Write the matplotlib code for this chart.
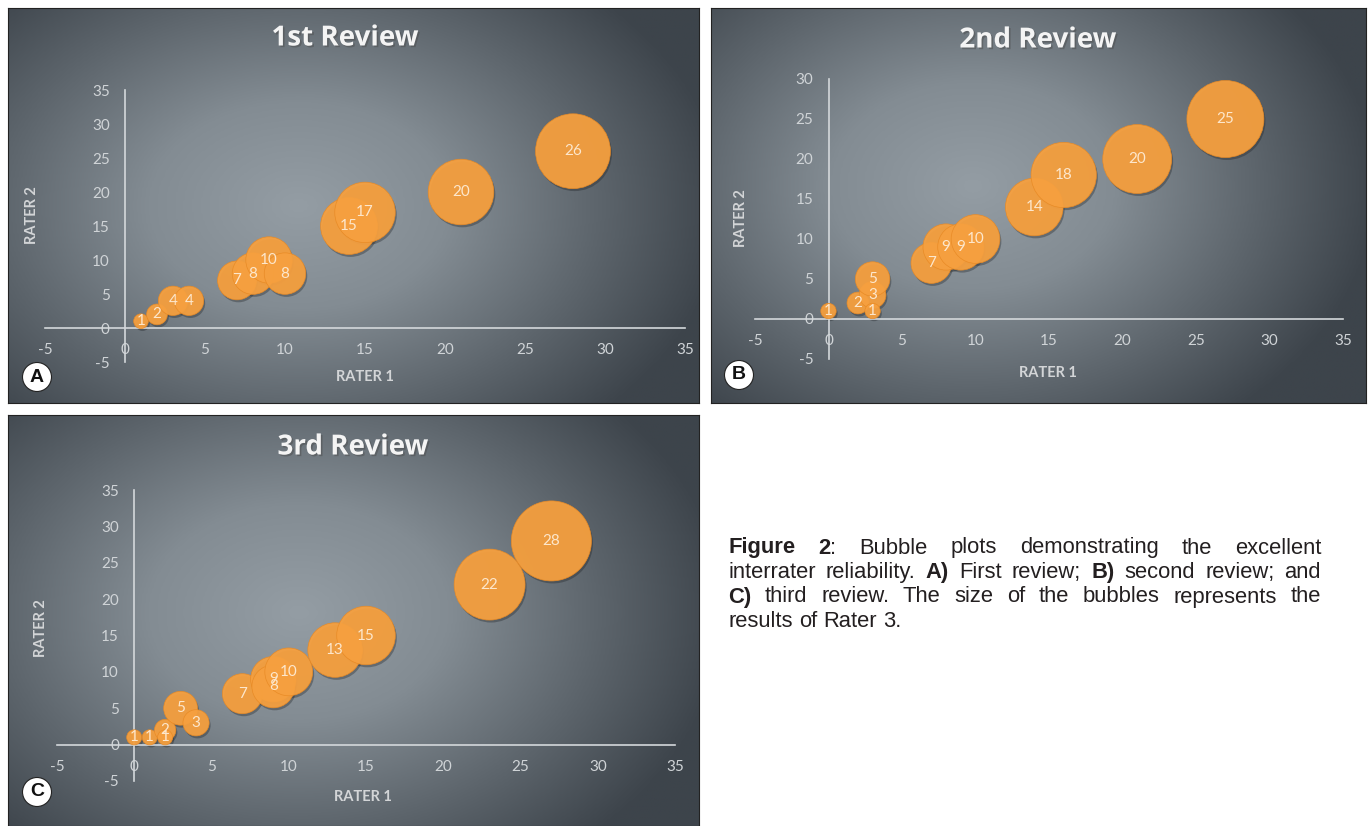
import numpy as np
import matplotlib
matplotlib.use('Agg')
import matplotlib.pyplot as plt
import matplotlib.patheffects as pe
import matplotlib.transforms as mtransforms
from matplotlib.colors import LinearSegmentedColormap
from matplotlib.patches import Ellipse

plt.rcParams['axes.unicode_minus'] = False

# data: rater 1 (x), rater 2 (y), rater 3 (bubble size and label)
r1_first = [1, 2, 3, 4, 7, 8, 9, 10, 14, 15, 21, 28]
r2_first = [1, 2, 4, 4, 7, 8, 10, 8, 15, 17, 20, 26]
r3_first = [1, 2, 4, 4, 7, 8, 10, 8, 15, 17, 20, 26]

r1_second = [0, 2, 3, 3, 3, 7, 8, 9, 10, 14, 16, 21, 27]
r2_second = [1, 2, 3, 1, 5, 7, 9, 9, 10, 14, 18, 20, 25]
r3_second = [1, 2, 3, 1, 5, 7, 9, 9, 10, 14, 18, 20, 25]

r1_third = [0, 1, 2, 2, 3, 4, 7, 9, 9, 10, 13, 15, 23, 27]
r2_third = [1, 1, 2, 1, 5, 3, 7, 9, 8, 10, 13, 15, 22, 28]
r3_third = [1, 1, 2, 1, 5, 3, 7, 9, 8, 10, 13, 15, 22, 28]

titles = ['1st Review', '2nd Review', '3rd Review']
letters = ['A', 'B', 'C']
y_tops = [35, 30, 35]

caption = [
    "*Figure* *2*: Bubble plots demonstrating the excellent",
    "interrater reliability. *A)* First review; *B)* second review; and",
    "*C)* third review. The size of the bubbles represents the",
    "results of Rater 3.",
]

W, H = 1368, 826
DPI = 100
fig = plt.figure(figsize=(W / DPI, H / DPI), dpi=DPI)
fig.patch.set_facecolor('white')

FONT = ['Lato', 'DejaVu Sans']
TITLE_FONT = ['Open Sans', 'DejaVu Sans']
TICK_C = '#d0d4d7'
ORANGE = '#f6a03f'

bg_cmap = LinearSegmentedColormap.from_list(
    'bg', [(0, '#949da4'), (0.35, '#838c93'), (0.7, '#5d656c'), (1.0, '#3d444b')])


def px_rect(left, top, right, bottom):
    return [left / W, 1 - bottom / H, (right - left) / W, (bottom - top) / H]


def fig_xy(x, y):
    return x / W, 1 - y / H


panels = [
    dict(box=(8, 8, 699, 403), plot=(45, 90, 685, 362), title=(345, 38),
         xlab=(365, 377), ylab=(32, 215), letter=(37, 377),
         data=(r1_first, r2_first, r3_first), center=(0.42, 0.50)),
    dict(box=(711, 8, 1366, 403), plot=(755, 79, 1343, 359), title=(1038, 40),
         xlab=(1048, 373), ylab=(741, 218), letter=(739, 375),
         data=(r1_second, r2_second, r3_second), center=(0.40, 0.45)),
    dict(box=(8, 415, 699, 826), plot=(57, 490, 675, 781), title=(353, 447),
         xlab=(363, 797), ylab=(41, 628), letter=(37, 792),
         data=(r1_third, r2_third, r3_third), center=(0.42, 0.48)),
]

for i, p in enumerate(panels):
    # gradient background
    bx = fig.add_axes(px_rect(*p['box']))
    gx, gy = np.meshgrid(np.linspace(0, 1, 400), np.linspace(0, 1, 240))
    cx, cy = p['center']
    d = np.sqrt(((gx - cx) / 0.62) ** 2 + ((gy - cy) / 0.75) ** 2)
    bx.imshow(np.clip(d, 0, 1), cmap=bg_cmap, vmin=0, vmax=1, aspect='auto',
              extent=[0, 1, 0, 1], origin='upper', interpolation='bilinear')
    bx.set_xlim(0, 1)
    bx.set_ylim(0, 1)
    bx.set_xticks([])
    bx.set_yticks([])
    for s in bx.spines.values():
        s.set_color('#222222')
        s.set_linewidth(0.8)

    # plot area
    ax = fig.add_axes(px_rect(*p['plot']))
    ax.patch.set_alpha(0)
    ax.set_xlim(-5, 35)
    ax.set_ylim(-5, y_tops[i])
    ax.set_xticks(np.arange(-5, 36, 5))
    ax.set_yticks(np.arange(-5, y_tops[i] + 1, 5))
    for side in ['top', 'right']:
        ax.spines[side].set_visible(False)
    for side in ['left', 'bottom']:
        ax.spines[side].set_position(('data', 0))
        ax.spines[side].set_color('#d4d8db')
        ax.spines[side].set_linewidth(1.2)
    ax.tick_params(length=0, labelsize=11, colors=TICK_C)
    ax.tick_params(axis='x', pad=11)
    ax.tick_params(axis='y', pad=11)
    for lab in ax.get_xticklabels() + ax.get_yticklabels():
        lab.set_family(FONT)

    x, y, v = p['data']
    x = np.array(x)
    y = np.array(y)
    v = np.array(v)
    plot_h = p['plot'][3] - p['plot'][1]
    dmax = 0.275 * plot_h
    d_px = dmax * np.sqrt(v / v.max())
    s = (d_px * 72 / DPI) ** 2

    shadow = mtransforms.offset_copy(ax.transData, fig=fig, x=1.5, y=-2.5, units='dots')
    ax.scatter(x, y, s=s, color='#1e2226', alpha=0.35, edgecolors='none',
               transform=shadow, zorder=2)
    ax.scatter(x, y, s=s, color=ORANGE, alpha=0.95, edgecolors='#e88a25',
               linewidths=0.5, zorder=3)
    for xi, yi, vi in zip(x, y, v):
        ax.text(xi, yi, str(vi), ha='center', va='center', fontsize=11,
                color='#fde7cc', family=FONT, zorder=4)

    # texts
    tx, ty = fig_xy(*p['title'])
    fig.text(tx, ty, titles[i], ha='center', va='center', fontsize=20,
             fontweight='bold', color='#f4f4f4', family=TITLE_FONT,
             path_effects=[pe.SimplePatchShadow(offset=(1.2, -1.2), alpha=0.45), pe.Normal()])
    lx, ly = fig_xy(*p['xlab'])
    fig.text(lx, ly, 'RATER 1', ha='center', va='center', fontsize=10.5,
             fontweight='bold', color='#d3d5d7', family=FONT)
    lx, ly = fig_xy(*p['ylab'])
    fig.text(lx, ly, 'RATER 2', ha='center', va='center', fontsize=10.5,
             fontweight='bold', color='#d3d5d7', family=FONT, rotation=90)

    # panel letter badge
    cxp, cyp = p['letter']
    bx.add_patch(Ellipse(((cxp - p['box'][0]) / (p['box'][2] - p['box'][0]),
                          1 - (cyp - p['box'][1]) / (p['box'][3] - p['box'][1])),
                         width=29 / (p['box'][2] - p['box'][0]),
                         height=29 / (p['box'][3] - p['box'][1]),
                         facecolor='white', edgecolor='#222222', linewidth=0.8, zorder=5))
    lx, ly = fig_xy(cxp, cyp)
    fig.text(lx, ly, letters[i], ha='center', va='center', fontsize=14,
             fontweight='bold', color='#111111', family=['Liberation Sans', 'DejaVu Sans'])

# caption, justified
CAP_FONT = ['Liberation Sans', 'DejaVu Sans']
CAP_SIZE = 15.8
cap_left, cap_right = 728, 1321
line_y = [548, 572.5, 597, 621.5]
renderer = fig.canvas.get_renderer()


def word_parts(word):
    parts = word.split('*')
    return [(t, k % 2 == 1) for k, t in enumerate(parts) if t]


def measure(text, bold):
    t = fig.text(0, 0, text, fontsize=CAP_SIZE, family=CAP_FONT,
                 fontweight='bold' if bold else 'normal')
    w = t.get_window_extent(renderer).width
    t.remove()
    return w


space_w = measure('a a', False) - measure('aa', False)
for li, line in enumerate(caption):
    words = [word_parts(w) for w in line.split(' ')]
    widths = [[measure(t, b) for t, b in parts] for parts in words]
    total = sum(sum(ws) for ws in widths)
    if li < len(caption) - 1:
        gap = (cap_right - cap_left - total) / (len(words) - 1)
    else:
        gap = space_w
    xcur = cap_left
    for parts, ws in zip(words, widths):
        for (t, b), w in zip(parts, ws):
            fx, fy = fig_xy(xcur, line_y[li])
            fig.text(fx, fy, t, ha='left', va='center', fontsize=CAP_SIZE,
                     family=CAP_FONT, fontweight='bold' if b else 'normal',
                     color='#231f20')
            xcur += w
        xcur += gap

fig.savefig('out.png', dpi=DPI, facecolor='white')
